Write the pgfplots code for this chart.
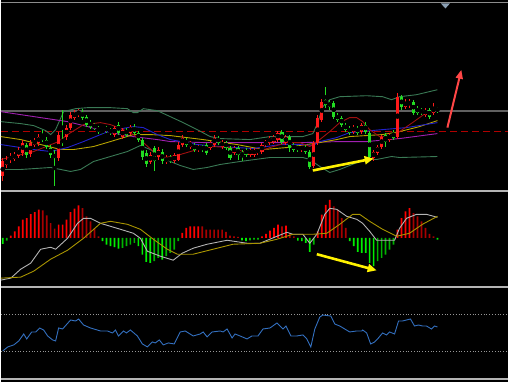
\documentclass[border=0pt]{standalone}
\usepackage{pgfplots}
\pgfplotsset{compat=1.18}
\usepackage{pgfplotstable}
\usetikzlibrary{arrows.meta}
\definecolor{cred}{HTML}{FF1A1A}
\definecolor{cgreen}{HTML}{22DD22}
\definecolor{bbg}{HTML}{3A7A55}
\definecolor{madr}{HTML}{A01010}
\definecolor{mablue}{HTML}{2222CC}
\definecolor{mayel}{HTML}{B8A400}
\definecolor{mapur}{HTML}{A020B0}
\definecolor{hred}{HTML}{FF0000}
\definecolor{hdred}{HTML}{A80000}
\definecolor{hgreen}{HTML}{00F000}
\definecolor{hdgreen}{HTML}{00B400}
\definecolor{difc}{HTML}{B4B4B4}
\definecolor{deac}{HTML}{A89400}
\definecolor{rsic}{HTML}{3370C0}
\definecolor{topl}{HTML}{8C8C8C}
\definecolor{hline}{HTML}{606060}
\definecolor{dline}{HTML}{B00000}
\definecolor{tri}{HTML}{8CA0B4}
\definecolor{arrred}{HTML}{FF4646}
\definecolor{dotc}{HTML}{969696}
\definecolor{sepc}{HTML}{B4B4B4}

% candles, pixel rows: body top t, body bottom b, high h, low l
\pgfplotstableread{
i t b h l
0 162 177 158 182
1 160 166 156 169
2 156 161 153 164
3 155 159 152 162
4 150 156 147 158
5 143 153 140 156
7 143 154 140 157
8 141 145 138 147
9 137 143 134 146
14 135 158 132 162
16 128 137 125 140
17 115 128 112 130
18 113 118 110 120
19 112 115 109 117
28 128 135 126 137
30 130 137 128 139
32 127 133 125 135
37 155 163 152 165
39 150 157 147 160
41 158 163 155 165
43 155 162 153 164
44 145 160 142 162
45 138 145 135 147
47 143 147 141 149
49 147 150 145 152
52 143 148 141 150
53 138 145 135 147
55 142 147 140 149
58 148 153 146 155
62 150 155 148 157
63 150 155 148 157
64 150 153 148 155
65 145 152 143 154
66 142 145 140 147
67 138 143 136 145
68 137 142 135 144
69 133 140 131 142
71 137 143 135 145
75 147 150 145 152
78 143 167 141 169
79 118 143 115 145
80 102 120 99 122
88 127 132 125 134
90 125 132 123 134
93 152 158 150 161
94 147 153 145 155
95 137 147 135 149
97 135 140 133 142
99 97 137 93 139
101 102 107 99 109
102 102 105 99 108
106 110 115 108 117
108 108 113 103 115
}\redc
\pgfplotstableread{
i t b h l
6 145 155 143 158
10 137 140 130 142
11 140 147 137 149
12 148 155 145 158
13 155 158 150 187
15 140 143 110 146
20 112 118 109 120
21 117 125 115 127
22 122 127 120 129
23 125 128 123 130
24 128 132 126 134
25 131 132 129 134
26 128 131 126 133
27 130 133 128 135
29 125 133 122 135
31 130 135 128 137
33 127 133 124 135
34 133 140 131 142
35 140 157 138 160
36 153 165 150 168
38 148 162 146 172
40 152 162 149 165
42 157 162 155 164
46 140 145 138 147
48 145 150 143 152
50 147 150 145 152
51 145 153 143 155
54 138 143 136 145
56 143 148 141 150
57 148 158 146 160
59 148 155 146 160
60 152 157 150 162
61 150 155 148 157
70 132 142 130 144
72 137 148 135 152
73 145 150 143 152
74 147 150 145 152
76 147 152 145 154
77 152 168 150 170
81 100 105 87 108
82 102 107 100 110
83 103 117 101 119
84 115 120 113 122
85 118 125 116 127
86 125 130 123 132
87 128 133 126 135
89 128 133 126 135
91 125 132 122 134
92 133 157 131 160
96 135 142 133 147
98 133 138 130 140
100 97 107 95 110
103 102 113 100 115
104 108 113 106 115
105 110 113 108 115
107 110 117 108 119
109 109 111 107 113
}\greenc

% MACD histogram (value above zero line, pixel units)
\pgfplotstableread{
i v
2 2.3
3 6.7
4 11.7
5 18.3
6 20
7 24
8 26
9 28.3
14 13.3
15 13.3
16 18.3
17 26
18 29.3
19 32.7
45 5
46 10
47 11.7
48 11.7
49 11.7
65 1.7
66 4
67 7.3
68 10
69 13.3
71 12.3
79 6.7
80 23.3
81 33.3
82 38.3
99 8.3
100 20
101 26.7
102 30
}\hr
\pgfplotstableread{
i v
10 27.7
11 22.7
12 15
13 9.3
20 30
21 21.7
22 16.7
23 9.3
24 1.7
50 11.7
51 8.3
52 8.3
53 8.3
54 8.3
55 8.3
56 6
57 2.3
58 1.7
59 1
70 11.7
72 5
73 1.7
83 31.7
84 28.3
85 20
86 10
103 25
104 21.7
105 16.7
106 10
107 4
108 1.7
}\hdr
\pgfplotstableread{
i v
0 -6
25 -3.3
26 -6.7
27 -8.3
28 -9.3
29 -10.7
34 -8.3
35 -16.7
36 -24
37 -25
40 -21.7
60 -2.3
61 -3.3
74 -2.7
75 -3.3
76 -5
77 -14
87 -3.3
88 -8.3
89 -14
90 -15
91 -15
92 -25
93 -28.3
109 -1.7
}\hg
\pgfplotstableread{
i v
1 -2.7
30 -10
31 -8.3
32 -6.7
33 -5
38 -23.3
39 -20
41 -18.3
42 -15
43 -11.7
44 -3.3
62 -2.3
63 -1.7
64 -1.7
78 -6.7
94 -23.3
95 -20
96 -16.7
97 -11.7
98 -6.7
}\hdg

\pgfplotsset{panel/.style={scale only axis, width=509pt, xmin=0, xmax=509,
  axis lines=none, clip=true,
  axis background/.style={fill=black}},
  hist/.style={ybar, bar width=1.7pt, bar shift=0pt, draw=none, mark=none}}

\begin{document}
\begin{tikzpicture}

% ---------------- panel 1 : candles ----------------
\begin{axis}[panel, name=p1, at={(0pt,0pt)}, anchor=north west, height=191pt, ymin=0, ymax=191, y dir=reverse]
\addplot[topl, line width=1.3pt] coordinates {(0,2.5) (509,2.5)};
\addplot[hline, line width=1.6pt] coordinates {(0,111.5) (509,111.5)};
\addplot[dline, line width=1.8pt, dash pattern=on 7pt off 4pt] coordinates {(0,132) (509,132)};
\addplot[fill=tri, draw=none] coordinates {(441.5,3.5) (450.5,3.5) (446,8.5)} -- cycle;
% Bollinger bands
\addplot[bbg, line width=0.9pt] coordinates {(0,122) (20,124) (33,126) (45,131) (50,135) (55,130) (63,112) (75,109) (87,108) (110,108) (127,109) (133,113) (137,113) (143,109) (157,111) (170,117) (183,123) (197,130) (210,137) (220,139) (250,140) (270,137) (303,137) (313,134) (318,123) (323,107) (330,100) (340,97) (367,96) (383,97) (392,100) (400,97) (417,95) (438,90)};
\addplot[bbg, line width=0.9pt] coordinates {(0,170) (20,170) (50,168) (70,172) (80,170) (93,162) (110,157) (127,152) (140,146) (150,150) (160,157) (170,162) (180,166) (193,170) (207,168) (220,165) (240,162) (270,158) (290,158) (303,158) (310,160) (320,167) (330,173) (340,170) (355,164) (367,160) (377,160) (392,157) (400,158) (438,157)};
% moving averages
\addplot[mapur, line width=0.9pt] coordinates {(0,112) (20,115) (40,118) (67,122) (87,127) (110,133) (133,137) (157,140) (170,142) (203,143) (237,143) (270,143) (303,143) (340,142) (367,142) (400,139) (438,134)};
\addplot[mayel, line width=0.9pt] coordinates {(0,137) (20,140) (40,145) (60,150) (73,150) (93,147) (110,142) (133,135) (150,135) (170,136) (203,140) (237,145) (263,150) (287,148) (300,146) (320,143) (337,140) (350,137) (383,135) (400,132) (420,127) (438,121)};
\addplot[mablue, line width=0.9pt] coordinates {(0,145) (33,150) (50,152) (67,148) (83,142) (100,135) (110,131) (133,127) (143,128) (157,135) (170,140) (197,145) (220,147) (253,149) (280,145) (303,145) (313,146) (320,142) (337,138) (350,133) (383,130) (407,128) (438,123)};
\addplot[madr, line width=0.9pt] coordinates {(0,160) (33,152) (58,142) (67,135) (83,125) (100,123) (110,125) (123,130) (133,135) (143,143) (153,152) (165,158) (180,155) (197,150) (213,147) (230,148) (247,153) (257,153) (270,148) (287,143) (300,143) (310,147) (320,140) (330,132) (340,123) (350,118) (357,118) (363,122) (370,130) (380,137) (390,137) (400,132) (413,123) (427,113) (438,110)};
% wicks
\addplot[only marks, mark=none, error bars/.cd, y dir=both, y explicit, error mark=none,
  error bar style={draw=cred, line width=1pt}]
  table[x expr=2+4*\thisrow{i}, y expr=(\thisrow{h}+\thisrow{l})/2, y error expr=(\thisrow{l}-\thisrow{h})/2]{\redc};
\addplot[only marks, mark=none, error bars/.cd, y dir=both, y explicit, error mark=none,
  error bar style={draw=cgreen, line width=1pt}]
  table[x expr=2+4*\thisrow{i}, y expr=(\thisrow{h}+\thisrow{l})/2, y error expr=(\thisrow{l}-\thisrow{h})/2]{\greenc};
% bodies
\addplot[only marks, mark=none, error bars/.cd, y dir=both, y explicit, error mark=none,
  error bar style={draw=cred, line width=3.2pt}]
  table[x expr=2+4*\thisrow{i}, y expr=(\thisrow{t}+\thisrow{b})/2, y error expr={max((\thisrow{b}-\thisrow{t})/2,0.8)}]{\redc};
\addplot[only marks, mark=none, error bars/.cd, y dir=both, y explicit, error mark=none,
  error bar style={draw=cgreen, line width=3.2pt}]
  table[x expr=2+4*\thisrow{i}, y expr=(\thisrow{t}+\thisrow{b})/2, y error expr={max((\thisrow{b}-\thisrow{t})/2,0.8)}]{\greenc};
% arrows
\addplot[yellow, line width=2.6pt, -{Triangle[length=9pt,width=8pt]}] coordinates {(313,171) (374,159)};
\addplot[arrred, line width=2pt, -{Triangle[length=9pt,width=7pt]}] coordinates {(448,128) (462,70)};
\end{axis}

% ---------------- panel 2 : MACD ----------------
\begin{axis}[panel, name=p2, at={(p1.south west)}, anchor=north west, height=96pt, ymin=-48.3, ymax=47.7]
\addplot[hist, fill=hred] table[x expr=2+4*\thisrow{i}, y=v]{\hr};
\addplot[hist, fill=hdred] table[x expr=2+4*\thisrow{i}, y=v]{\hdr};
\addplot[hist, fill=hgreen] table[x expr=2+4*\thisrow{i}, y=v]{\hg};
\addplot[hist, fill=hdgreen] table[x expr=2+4*\thisrow{i}, y=v]{\hdg};
\addplot[difc, line width=0.9pt] coordinates {(0,-42.3) (10,-40.3) (20,-31.3) (30,-25.3) (40,-11.3) (50,-9.3) (55,-11.3) (67,-0.3) (77,14.7) (83,19.7) (90,19.7) (100,14.7) (110,11.7) (120,8.7) (133,4.7) (140,-0.3) (147,-13.3) (160,-18.3) (173,-22.3) (182,-15.3) (193,-10.3) (207,-6.3) (227,-2.3) (247,-5.3) (260,-5.3) (277,1.7) (287,5.7) (293,3.7) (303,3.7) (310,-5.3) (317,3.7) (325,23.7) (330,29.7) (337,28.7) (347,21.7) (357,18.7) (363,14.7) (370,6.7) (377,-2.3) (395,-2.3) (400,9.7) (407,19.7) (417,23.7) (427,23.7) (438,20.7)};
\addplot[deac, line width=0.9pt] coordinates {(0,-40.3) (20,-39.3) (33,-33.3) (50,-21.3) (67,-12.3) (83,-0.3) (100,14.7) (110,16.7) (127,13.7) (140,8.7) (153,-1.3) (167,-11.3) (177,-16.3) (193,-16.3) (213,-11.3) (233,-6.3) (260,-5.3) (277,-1.3) (293,3.7) (313,3.7) (327,4.7) (340,13.7) (353,23.7) (360,23.7) (370,16.7) (383,8.7) (397,1.7) (410,4.7) (423,13.7) (438,21.7)};
\addplot[yellow, line width=2.6pt, -{Triangle[length=9pt,width=8pt]}] coordinates {(317,-16.3) (377,-32.5)};
\end{axis}

% ---------------- panel 3 : oscillator ----------------
\begin{axis}[panel, name=p3, at={(p2.south west)}, anchor=north west, height=96pt, ymin=287, ymax=383, y dir=reverse]
\addplot[dotc, line width=0.8pt, dotted] coordinates {(0,315.7) (509,315.7)};
\addplot[dotc, line width=0.8pt, dotted] coordinates {(0,352.3) (509,352.3)};
\addplot[rsic, line width=0.9pt] coordinates {(2,352) (7,348) (13,346) (18,342) (23,335) (26,340) (31,333) (35,333) (39,329) (43,331) (47,337) (52,341) (55,342) (58,329) (62,330) (70,321) (75,322) (78,320) (83,326) (90,329) (100,332) (107,332) (112,334) (115,331) (118,337) (123,332) (126,334) (130,331) (137,337) (142,345) (147,348) (152,343) (155,344) (159,341) (163,346) (168,344) (174,345) (180,333) (185,332) (193,337) (200,335) (203,333) (207,338) (212,333) (220,332) (223,333) (227,330) (232,339) (235,335) (240,337) (247,340) (252,337) (258,337) (263,330) (270,329) (277,324) (280,327) (283,330) (286,327) (291,337) (297,337) (303,336) (307,340) (311,348) (315,330) (320,318) (323,316) (331,317) (335,325) (340,327) (350,333) (357,332) (362,332) (363,331) (367,334) (371,345) (375,343) (378,340) (383,334) (387,336) (390,333) (395,335) (399,322) (403,322) (411,320) (415,327) (419,326) (423,327) (427,327) (432,330) (435,327) (438,328)};
\addplot[sepc, line width=1.4pt] coordinates {(0,380) (509,380)};
\addplot[sepc, line width=1.6pt] coordinates {(0,287.7) (509,287.7)};
\end{axis}

% panel separator between candles and MACD
\draw[sepc, line width=1.6pt] ([yshift=-0.8pt]p1.south west) -- ([yshift=-0.8pt]p1.south east);
\end{tikzpicture}
\end{document}
